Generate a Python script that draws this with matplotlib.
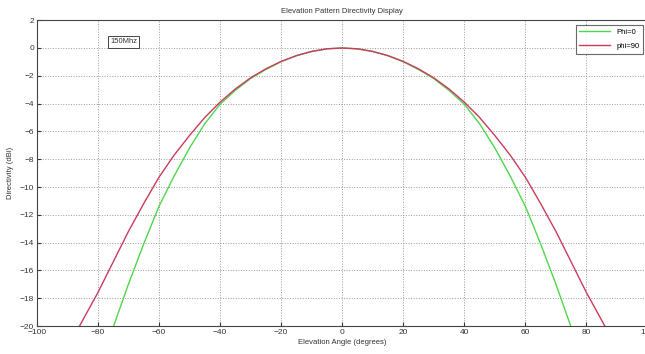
import numpy as np
import matplotlib.pyplot as plt

# data (elevation angle in degrees, directivity in dBi)
angles = list(range(-90, 91, 5))
dir_phi0_half = [-29.5, -26.3, -23.2, -20.1, -17.0, -14.1, -11.4, -9.2, -7.2, -5.45, -4.05,
                 -3.05, -2.2, -1.55, -0.98, -0.56, -0.25, -0.06, 0.0]
dir_phi90_half = [-21.6, -19.6, -17.6, -15.4, -13.2, -11.2, -9.3, -7.7, -6.3, -5.0, -3.9,
                  -2.95, -2.15, -1.5, -0.97, -0.55, -0.25, -0.06, 0.0]
dir_phi0 = dir_phi0_half + dir_phi0_half[-2::-1]
dir_phi90 = dir_phi90_half + dir_phi90_half[-2::-1]

x_ticks = list(range(-100, 101, 20))
y_ticks = list(range(-20, 3, 2))

plt.rcParams['font.family'] = ['Liberation Sans', 'DejaVu Sans']
plt.rcParams['font.size'] = 6

fig = plt.figure(figsize=(6.45, 3.54), dpi=100)
ax = fig.add_axes([0.057, 0.079, 0.947, 0.864])

ax.plot(angles, dir_phi0, color='#4fd64f', lw=1.0, label='Phi=0')
ax.plot(angles, dir_phi90, color='#cc3a5c', lw=1.0, label='phi=90')

ax.set_xlim(-100, 100)
ax.set_ylim(-20, 2)
ax.set_xticks(x_ticks)
ax.set_yticks(y_ticks)
ax.tick_params(direction='in', length=3, colors='#333333', labelsize=6, pad=2)
ax.grid(True, linestyle=':', color='#999999', lw=0.7)
for s in ax.spines.values():
    s.set_color('#444444')
    s.set_linewidth(0.8)

ax.set_title('Elevation Pattern Directivity Display', fontsize=5.5, color='#333333', pad=5)
ax.set_xlabel('Elevation Angle (degrees)', fontsize=5.5, color='#333333', labelpad=2)
ax.set_ylabel('Directivity (dBi)', fontsize=5.5, color='#333333', labelpad=4)

ax.text(-76, 0.45, '150Mhz', fontsize=5.5, color='#333333', va='center', ha='left',
        bbox=dict(boxstyle='square,pad=0.3', fc='white', ec='#444444', lw=0.7))

leg = ax.legend(loc='upper right', fontsize=5.5, frameon=True, fancybox=False,
                edgecolor='#444444', handlelength=4.0, borderaxespad=0.6,
                borderpad=0.5, labelspacing=0.9)
leg.get_frame().set_linewidth(0.8)

fig.savefig('out.png', dpi=100)
